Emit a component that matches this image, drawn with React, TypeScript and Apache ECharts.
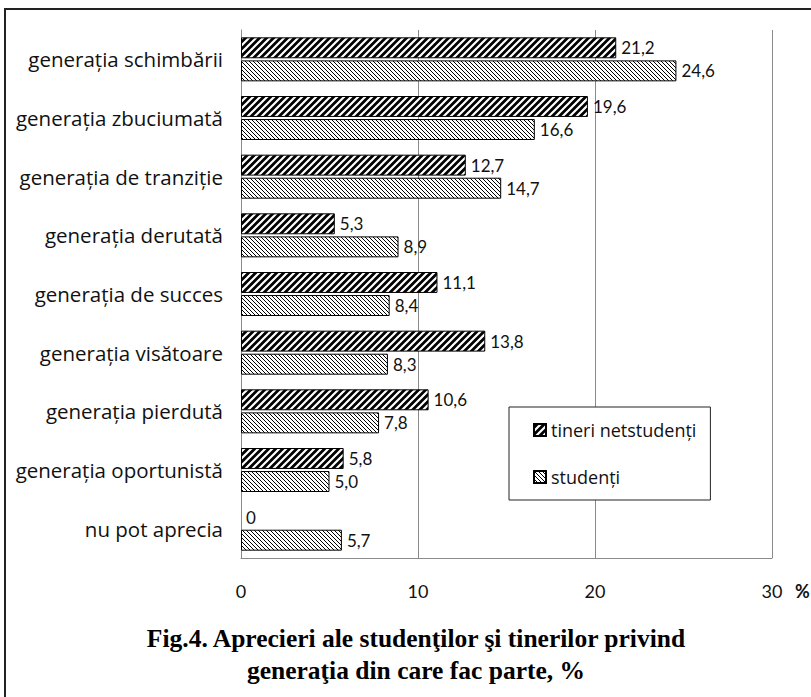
import React, { useEffect, useRef } from "react";
import * as echarts from "echarts";

const categories = [
  "generația schimbării",
  "generația zbuciumată",
  "generația de tranziție",
  "generația derutată",
  "generația de succes",
  "generația visătoare",
  "generația pierdută",
  "generația oportunistă",
  "nu pot aprecia",
];
const tineriValues = [21.2, 19.6, 12.7, 5.3, 11.1, 13.8, 10.6, 5.8, 0];
const studentiValues = [24.6, 16.6, 14.7, 8.9, 8.4, 8.3, 7.8, 5.0, 5.7];
const seriesNames = ["tineri netstudenți", "studenți"];
const captionLines = [
  "Fig.4. Aprecieri ale studenţilor şi tinerilor privind",
  "generaţia din care fac parte, %",
];
const xMin = 0;
const xMax = 30;
const xInterval = 10;

const svgUrl = (s: string) => "data:image/svg+xml;charset=utf-8," + encodeURIComponent(s);

const darkTile = svgUrl(
  "<svg xmlns='http://www.w3.org/2000/svg' width='7' height='7'><rect width='7' height='7' fill='black'/><path d='M0 7L7 0M-1 1L1 -1M6 8L8 6' stroke='white' stroke-width='2.2'/></svg>"
);
const lightTile = svgUrl(
  "<svg xmlns='http://www.w3.org/2000/svg' width='4' height='4'><rect width='4' height='4' fill='white'/><path d='M0 0L4 4M-1 3L1 5M3 -1L5 1' stroke='black' stroke-width='1'/></svg>"
);

const fmt = (v: number) => (v === 0 ? "0" : v.toFixed(1).replace(".", ","));

const FONT = "Lato, 'Open Sans', sans-serif";
const FONT_CAT = "'Open Sans', Lato, sans-serif";

export default function App() {
  const ref = useRef<HTMLDivElement>(null);
  useEffect(() => {
    document.body.style.margin = "0";
    const chart = echarts.init(ref.current!, null, { renderer: "svg" });
    const mkData = (vals: number[]) =>
      vals.map((v) => (v === 0 ? { value: v, itemStyle: { borderWidth: 0 } } : v));
    const patterns = [darkTile, lightTile];
    const sizes = [7, 4];
    const series: any[] = [tineriValues, studentiValues].map((vals, i) => ({
      name: seriesNames[i],
      type: "bar",
      data: mkData(vals),
      barCategoryGap: "25%",
      barGap: "10%",
      itemStyle: {
        color: {
          image: patterns[i],
          repeat: "repeat",
          imageWidth: sizes[i],
          imageHeight: sizes[i],
        },
        borderColor: "#000",
        borderWidth: 1,
      },
      label: {
        show: true,
        position: "right",
        distance: 5,
        fontSize: 17,
        fontFamily: FONT,
        color: "#111",
        formatter: (p: any) => fmt(p.value),
      },
    }));
    chart.setOption({
      animation: false,
      backgroundColor: "#fff",
      grid: { left: 241, right: 39, top: 30, bottom: 139, containLabel: false },
      xAxis: {
        type: "value",
        min: xMin,
        max: xMax,
        interval: xInterval,
        axisLine: { show: true, lineStyle: { color: "#8a8a8a", width: 1 } },
        axisTick: { show: false },
        splitLine: { show: true, lineStyle: { color: "#8a8a8a", width: 1 } },
        axisLabel: { margin: 24, fontSize: 18, fontFamily: FONT, color: "#111" },
      },
      yAxis: {
        type: "category",
        inverse: true,
        data: categories,
        axisLine: { show: true, lineStyle: { color: "#8a8a8a", width: 1 } },
        axisTick: { show: false },
        axisLabel: { margin: 18, fontSize: 20.5, fontFamily: FONT_CAT, color: "#111" },
      },
      legend: {
        orient: "vertical",
        left: 509,
        top: 407,
        padding: [14, 14, 14, 24],
        itemGap: 29,
        itemWidth: 12,
        itemHeight: 12,
        icon: "rect",
        borderColor: "#222",
        borderWidth: 1,
        backgroundColor: "#fff",
        textStyle: { fontSize: 18, fontFamily: FONT_CAT, color: "#111" },
        data: seriesNames,
      },
      graphic: [
        {
          type: "rect",
          x: 5,
          y: 9,
          shape: { width: 840, height: 720 },
          style: { fill: "none", stroke: "#222", lineWidth: 2 },
          silent: true,
          z: -1,
        },
        {
          type: "text",
          x: 795,
          y: 591,
          style: {
            text: "%",
            fontSize: 18,
            fontWeight: "bold",
            fontFamily: FONT,
            fill: "#111",
            verticalAlign: "middle",
          },
        },
        ...captionLines.map((t, i) => ({
          type: "text",
          x: 416,
          y: 638 + i * 32,
          style: {
            text: t,
            fontSize: 25.5,
            fontWeight: "bold",
            fontFamily: "'Liberation Serif', 'Times New Roman', serif",
            fill: "#000",
            align: "center",
            verticalAlign: "middle",
          },
        })),
      ],
      series,
    });
    return () => chart.dispose();
  }, []);
  return (
    <div
      ref={ref}
      style={{ position: "fixed", left: 0, top: 0, width: 811, height: 697 }}
    />
  );
}
